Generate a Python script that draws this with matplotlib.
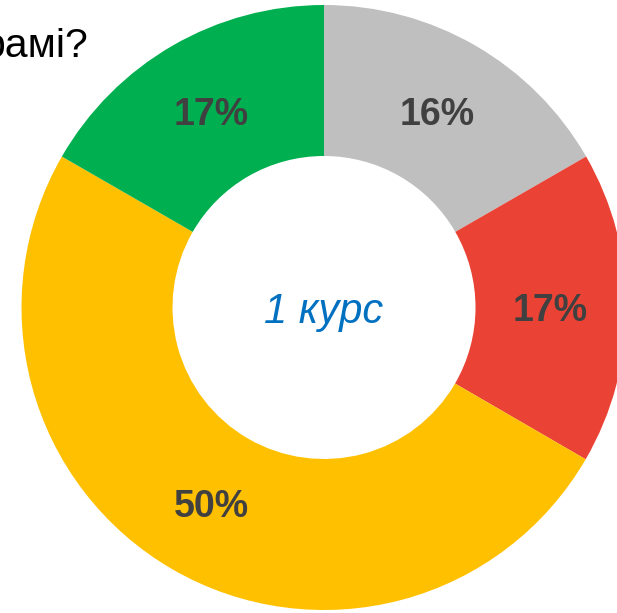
import matplotlib
matplotlib.use("Agg")
import matplotlib.pyplot as plt
import math

# Data
categories = ["Сірий", "Червоний", "Жовтий", "Зелений"]
values = [16.7, 16.7, 50.0, 16.7]
value_labels = ["16%", "17%", "50%", "17%"]
colors = ["#BFBFBF", "#EA4335", "#FFC000", "#00B050"]
center_label = "1 курс"
title_fragment = "рамі?"

W, H = 617, 613
fig = plt.figure(figsize=(W / 100, H / 100), dpi=100)
ax = fig.add_axes([0, 0, 1, 1])

cx, cy = 324, H - 307.5
R = 302.5
ring_w = 151

wedges, _ = ax.pie(values, colors=colors, startangle=90, counterclock=False,
                   radius=R, center=(cx, cy),
                   wedgeprops=dict(width=ring_w, linewidth=0))
ax.set_xlim(0, W)
ax.set_ylim(0, H)
ax.set_aspect('auto')
ax.axis('off')

lab_r = 226
for w, lab in zip(wedges, value_labels):
    ang = math.radians((w.theta1 + w.theta2) / 2)
    ax.text(cx + lab_r * math.cos(ang), cy + lab_r * math.sin(ang) - 13.5, lab,
            ha='center', va='baseline', fontsize=27, fontweight='bold',
            color='#404040', family='Liberation Sans')

ax.text(cx, cy - 15.5, center_label, ha='center', va='baseline', fontsize=30,
        style='italic', color='#0070C0', family='Liberation Sans')

ax.text(88, H - 57, title_fragment, ha='right', va='baseline', fontsize=29.5,
        color='#000000', family='Liberation Sans')

fig.savefig("out.png", dpi=100)
